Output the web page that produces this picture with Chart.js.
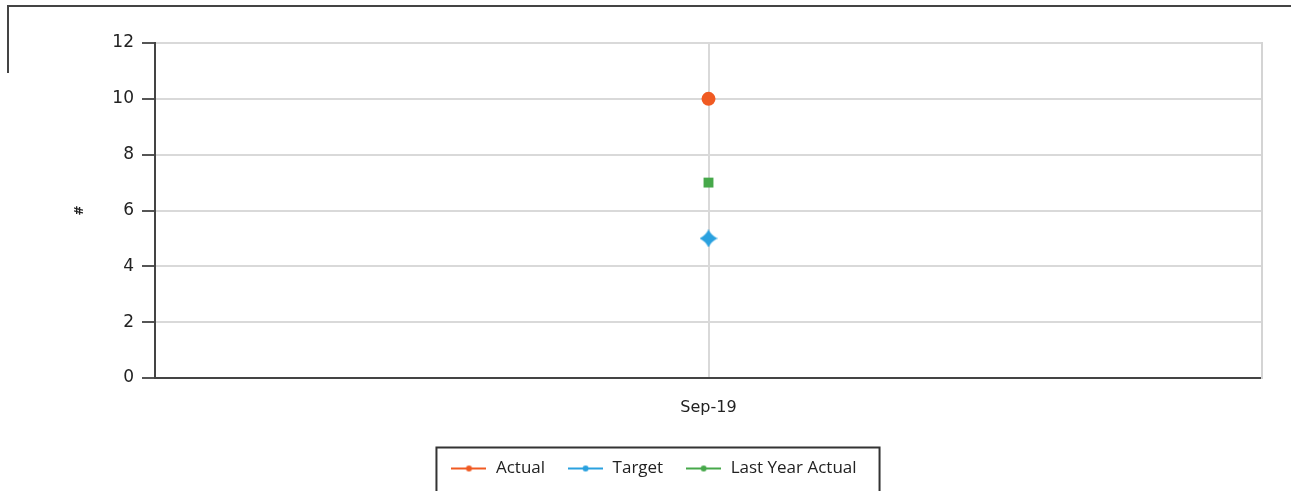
<!DOCTYPE html>
<html>
<head>
<meta charset="utf-8">
<script src="https://cdn.jsdelivr.net/npm/chart.js@4/dist/chart.umd.min.js"></script>
<style>
  html, body { margin: 0; padding: 0; background: #fff; }
  #wrap { width: 1291px; height: 491px; position: relative; }
</style>
</head>
<body>
<div id="wrap"><canvas id="chart"></canvas></div>
<script>
// Data
const categories = ['Sep-19'];
const actual = [10];
const target = [5];
const lastYearActual = [7];
const yTicks = [0, 2, 4, 6, 8, 10, 12];

const ORANGE = '#f05a22';
const BLUE = '#2aa1df';
const GREEN = '#46a84a';
const TICK_FONT = "'DejaVu Sans', sans-serif";
const LEGEND_FONT = "'Open Sans', 'Noto Sans', sans-serif";

// 4-point star marker for Target
function makeStar(size, color) {
    const c = document.createElement('canvas');
    c.width = size; c.height = size;
    const g = c.getContext('2d');
    const m = size / 2, r = size / 2, ri = size * 0.16;
    g.fillStyle = color;
    g.beginPath();
    g.moveTo(m, m - r);
    g.quadraticCurveTo(m + ri, m - ri, m + r, m);
    g.quadraticCurveTo(m + ri, m + ri, m, m + r);
    g.quadraticCurveTo(m - ri, m + ri, m - r, m);
    g.quadraticCurveTo(m - ri, m - ri, m, m - r);
    g.fill();
    return c;
}

// Legend swatch: line with small marker in the middle
function makeSwatch(color) {
    const c = document.createElement('canvas');
    c.width = 35; c.height = 8;
    const g = c.getContext('2d');
    g.strokeStyle = color;
    g.lineWidth = 2;
    g.beginPath();
    g.moveTo(0, 4);
    g.lineTo(35, 4);
    g.stroke();
    g.fillStyle = color;
    g.beginPath();
    g.arc(17.5, 4, 3, 0, Math.PI * 2);
    g.fill();
    return c;
}

const swatches = [makeSwatch(ORANGE), makeSwatch(BLUE), makeSwatch(GREEN)];

const framePlugin = {
    id: 'frame',
    beforeDraw: (chart) => {
        const c = chart.ctx;
        c.save();
        c.strokeStyle = '#444';
        c.lineWidth = 2;
        c.beginPath();
        c.moveTo(8, 73);
        c.lineTo(8, 6);
        c.lineTo(1291, 6);
        c.stroke();
        c.restore();
    },
    afterDraw: (chart) => {
        const boxes = chart.legend && chart.legend.legendHitBoxes;
        if (!boxes || !boxes.length) return;
        const first = boxes[0], last = boxes[boxes.length - 1];
        const cy = first.top + first.height / 2;
        const c = chart.ctx;
        c.save();
        c.strokeStyle = '#333';
        c.lineWidth = 2;
        c.strokeRect(first.left - 14, cy - 21, last.left + last.width + 23 - (first.left - 14), 60);
        c.restore();
    }
};

new Chart(document.getElementById('chart'), {
    type: 'line',
    data: {
        labels: categories,
        datasets: [
            {
                label: 'Actual',
                data: actual,
                borderColor: ORANGE,
                backgroundColor: ORANGE,
                pointStyle: 'circle',
                pointRadius: 7,
                pointBorderWidth: 0
            },
            {
                label: 'Target',
                data: target,
                borderColor: BLUE,
                backgroundColor: BLUE,
                pointStyle: makeStar(18, BLUE),
                pointRadius: 9
            },
            {
                label: 'Last Year Actual',
                data: lastYearActual,
                borderColor: GREEN,
                backgroundColor: GREEN,
                pointStyle: 'rect',
                pointRadius: 7,
                pointBorderWidth: 0
            }
        ]
    },
    plugins: [framePlugin],
    options: {
        responsive: true,
        maintainAspectRatio: false,
        animation: false,
        layout: {
            padding: { left: 45, right: 29, top: 43, bottom: 4 }
        },
        plugins: {
            legend: {
                position: 'bottom',
                labels: {
                    usePointStyle: true,
                    pointStyleWidth: 37,
                    padding: 22,
                    color: '#222',
                    font: { family: LEGEND_FONT, size: 17 },
                    generateLabels: (chart) => chart.data.datasets.map((ds, i) => ({
                        text: ds.label,
                        pointStyle: swatches[i],
                        fillStyle: ds.borderColor,
                        strokeStyle: ds.borderColor,
                        lineWidth: 0,
                        fontColor: '#222',
                        datasetIndex: i
                    }))
                }
            },
            tooltip: { enabled: false }
        },
        scales: {
            x: {
                offset: true,
                afterFit: (axis) => { axis.height = 60; },
                grid: {
                    color: '#d9d9d9',
                    lineWidth: 2,
                    drawTicks: false
                },
                border: { color: '#444', width: 2 },
                ticks: {
                    color: '#222',
                    padding: 20,
                    font: { family: TICK_FONT, size: 16 }
                }
            },
            y: {
                min: 0,
                max: 12,
                afterBuildTicks: (axis) => {
                    axis.ticks = yTicks.map(v => ({ value: v }));
                },
                afterFit: (axis) => { axis.width = 110; },
                grid: {
                    color: '#d9d9d9',
                    lineWidth: 2,
                    tickColor: '#555',
                    tickLength: 13
                },
                border: { color: '#444', width: 2 },
                ticks: {
                    color: '#222',
                    padding: 8,
                    font: { family: TICK_FONT, size: 17 }
                },
                title: {
                    display: true,
                    text: '#',
                    color: '#222',
                    padding: { top: 28, bottom: 0 },
                    font: { family: TICK_FONT, size: 12, weight: 'bold' }
                }
            },
            y2: {
                position: 'right',
                min: 0,
                max: 12,
                afterFit: (axis) => { axis.width = 0; },
                grid: { drawOnChartArea: false, drawTicks: false },
                border: { color: '#d4d4d4', width: 2 },
                ticks: { display: false }
            }
        }
    }
});
</script>
</body>
</html>
